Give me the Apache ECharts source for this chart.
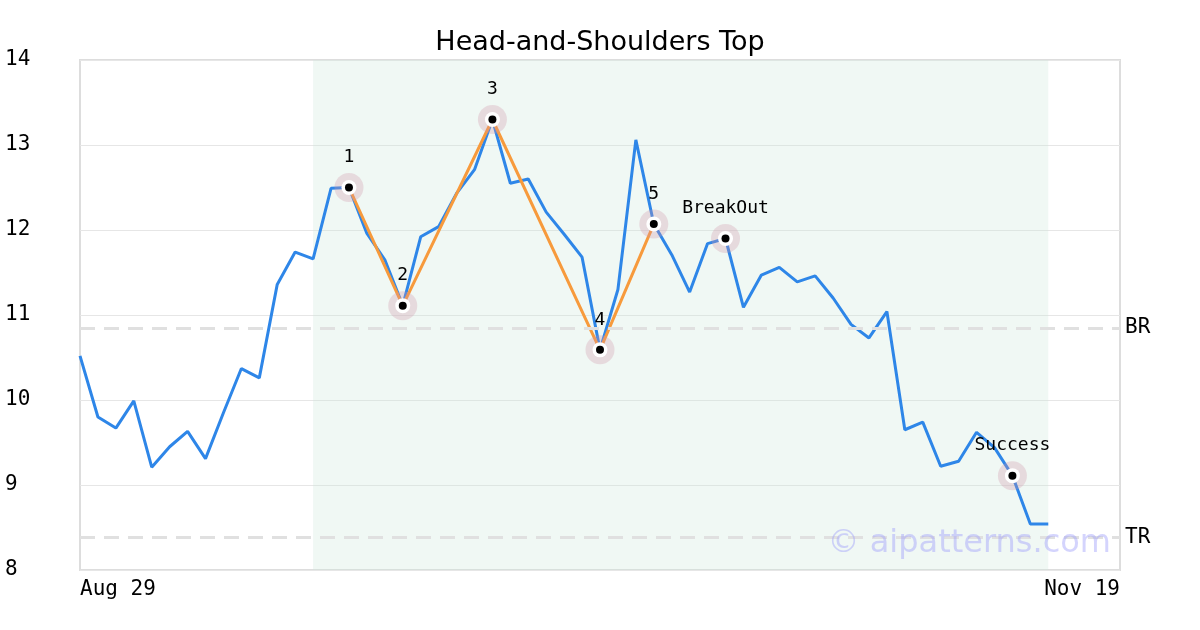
<!DOCTYPE html>
<html>
<head>
<meta charset="utf-8">
<script src="https://cdn.jsdelivr.net/npm/echarts@6/dist/echarts.min.js"></script>
<style>
  html, body { margin: 0; padding: 0; background: #fff; }
  #chart { width: 1200px; height: 630px; }
</style>
</head>
<body>
<div id="chart"></div>
<script>
const dates = [
  'Aug 29', 'Aug 30',
  'Sep 2', 'Sep 3', 'Sep 4', 'Sep 5', 'Sep 6',
  'Sep 9', 'Sep 10', 'Sep 11', 'Sep 12', 'Sep 13',
  'Sep 16', 'Sep 17', 'Sep 18', 'Sep 19', 'Sep 20',
  'Sep 23', 'Sep 24', 'Sep 25', 'Sep 26', 'Sep 27',
  'Sep 30', 'Oct 1', 'Oct 2', 'Oct 3', 'Oct 4',
  'Oct 7', 'Oct 8', 'Oct 9', 'Oct 10', 'Oct 11',
  'Oct 14', 'Oct 15', 'Oct 16', 'Oct 17', 'Oct 18',
  'Oct 21', 'Oct 22', 'Oct 23', 'Oct 24', 'Oct 25',
  'Oct 28', 'Oct 29', 'Oct 30', 'Oct 31', 'Nov 1',
  'Nov 4', 'Nov 5', 'Nov 6', 'Nov 7', 'Nov 8',
  'Nov 11', 'Nov 12', 'Nov 13', 'Nov 14', 'Nov 15',
  'Nov 18', 'Nov 19'
];

const prices = [
  10.52, 9.80, 9.67, 9.99, 9.21, 9.45, 9.63, 9.31, 9.85, 10.37,
  10.26, 11.36, 11.74, 11.66, 12.49, 12.50, 11.96, 11.65, 11.11, 11.92,
  12.04, 12.43, 12.71, 13.30, 12.55, 12.60, 12.21, 11.95, 11.68, 10.59,
  11.30, 13.06, 12.07, 11.71, 11.27, 11.84, 11.90, 11.09, 11.47, 11.56,
  11.39, 11.46, 11.20, 10.89, 10.73, 11.04, 9.65, 9.74, 9.22, 9.28,
  9.62, 9.44, 9.11, 8.54, 8.54
];

// pattern pivots 1..5
const pivotIdx = [15, 18, 23, 29, 32];
const pivotLabels = ['1', '2', '3', '4', '5'];

// other marked points
const eventIdx = [36, 52];
const eventLabels = ['BreakOut', 'Success'];

const shadeFrom = 13;
const shadeTo = 54;

const breakoutLevel = 10.85;
const targetLevel = 8.38;

const mono = '"DejaVu Sans Mono", monospace';
const sans = '"DejaVu Sans", sans-serif';

const priceData = dates.map((d, i) => (i < prices.length ? prices[i] : null));
const patternData = dates.map((d, i) => (pivotIdx.includes(i) ? prices[i] : null));

const markPoints = pivotIdx.map((idx, k) => ({ value: [idx, prices[idx]], label: pivotLabels[k] }))
  .concat(eventIdx.map((idx, k) => ({ value: [idx, prices[idx]], label: eventLabels[k] })));

const chart = echarts.init(document.getElementById('chart'));

const option = {
  backgroundColor: '#ffffff',
  animation: false,
  title: {
    text: 'Head-and-Shoulders Top',
    left: 'center',
    top: 24,
    textStyle: { fontFamily: sans, fontSize: 27, fontWeight: 'normal', color: '#000' }
  },
  grid: {
    left: 80,
    right: 80,
    top: 60,
    bottom: 60,
    show: true,
    borderColor: '#dddddd',
    borderWidth: 2,
    backgroundColor: 'transparent'
  },
  xAxis: {
    type: 'category',
    data: dates,
    boundaryGap: false,
    axisLine: { show: false },
    axisTick: { show: false },
    splitLine: { show: false },
    axisLabel: {
      fontFamily: mono,
      fontSize: 21,
      color: '#000',
      margin: 9,
      interval: (i) => i === 0 || i === dates.length - 1,
      alignMinLabel: 'left',
      alignMaxLabel: 'right'
    }
  },
  yAxis: {
    type: 'value',
    min: 8,
    max: 14,
    interval: 1,
    axisLine: { show: false },
    axisTick: { show: false },
    splitLine: { lineStyle: { color: '#e6e6e6', width: 1 } },
    axisLabel: {
      fontFamily: mono,
      fontSize: 21,
      color: '#000',
      align: 'left',
      margin: 75,
      padding: [5, 0, 0, 0]
    }
  },
  graphic: [{
    type: 'text',
    right: 89,
    top: 528,
    z: 100,
    style: {
      text: '© aipatterns.com',
      font: '32px "DejaVu Sans", sans-serif',
      fill: 'rgba(160, 160, 250, 0.45)'
    }
  }],
  series: [
    {
      name: 'Price',
      type: 'line',
      data: priceData,
      showSymbol: false,
      lineStyle: { color: '#2e86e8', width: 3 },
      itemStyle: { color: '#2e86e8' },
      z: 2,
      markArea: {
        silent: true,
        itemStyle: { color: 'rgba(205, 232, 220, 0.3)' },
        data: [[{ xAxis: shadeFrom }, { xAxis: shadeTo }]]
      },
      markLine: {
        silent: true,
        symbol: 'none',
        lineStyle: { color: '#e0e0e0', width: 3, type: [15, 9] },
        label: {
          position: 'end',
          fontFamily: mono,
          fontSize: 21,
          color: '#000',
          distance: 5,
          padding: [6, 0, 0, 0]
        },
        data: [
          { yAxis: breakoutLevel, label: { formatter: 'BR' } },
          { yAxis: targetLevel, label: { formatter: 'TR' } }
        ]
      }
    },
    {
      name: 'Pattern',
      type: 'line',
      data: patternData,
      connectNulls: true,
      showSymbol: false,
      lineStyle: { color: '#f79a3c', width: 3 },
      z: 3
    },
    {
      name: 'Halo',
      type: 'scatter',
      data: markPoints.map(p => p.value),
      symbolSize: 29,
      itemStyle: { color: 'rgba(210, 150, 170, 0.3)', opacity: 1 },
      z: 4
    },
    {
      name: 'Ring',
      type: 'scatter',
      data: markPoints.map(p => p.value),
      symbolSize: 15,
      itemStyle: { color: '#ffffff', opacity: 1 },
      z: 5
    },
    {
      name: 'Dot',
      type: 'scatter',
      data: markPoints.map(p => ({
        value: p.value,
        label: { show: true, formatter: p.label }
      })),
      symbolSize: 8,
      itemStyle: { color: '#000000', opacity: 1 },
      label: {
        position: 'top',
        distance: 17,
        fontFamily: mono,
        fontSize: 18,
        color: '#000',
        opacity: 1
      },
      z: 6
    }
  ]
};

chart.setOption(option);
</script>
</body>
</html>
